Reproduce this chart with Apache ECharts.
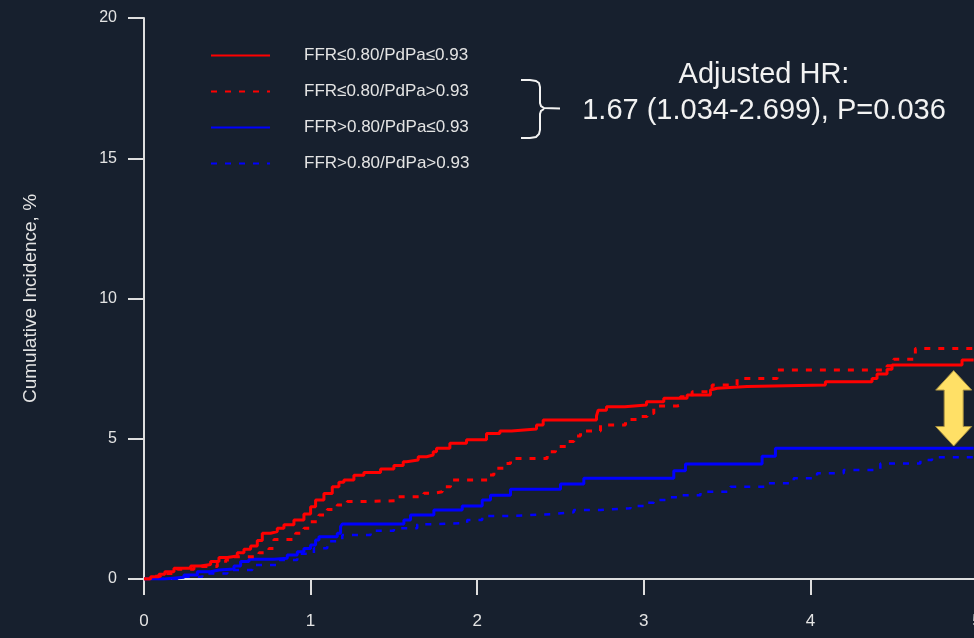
<!DOCTYPE html>
<html>
<head>
<meta charset="utf-8">
<title>Cumulative Incidence</title>
<script src="https://cdn.jsdelivr.net/npm/echarts@6/dist/echarts.min.js"></script>
<style>
	html, body { margin: 0; padding: 0; background: #17202e; }
	.kmChart { width: 974px; height: 638px; }
</style>
</head>
<body>
<div class="kmChart"></div>
<script>
	// 刻度
	const yTicks = [0, 5, 10, 15, 20]
	const xTicks = [0, 1, 2, 3, 4, 5]

	// 分组名称（图例）
	const groupNames = ['FFR≤0.80/PdPa≤0.93', 'FFR≤0.80/PdPa>0.93', 'FFR>0.80/PdPa≤0.93', 'FFR>0.80/PdPa>0.93']

	// 累积发生率 [年, %]  从图上读出
	const lowFfrLowPd = [[0, 0], [0.04, 0.08], [0.09, 0.17], [0.125, 0.26], [0.18, 0.38], [0.28, 0.46], [0.34, 0.52], [0.4, 0.62], [0.45, 0.77], [0.5, 0.82],
		[0.56, 0.94], [0.6, 1.06], [0.64, 1.18], [0.68, 1.37], [0.71, 1.63], [0.76, 1.69], [0.8, 1.81], [0.84, 1.93], [0.9, 2.1], [0.96, 2.32],
		[1.0, 2.58], [1.03, 2.82], [1.08, 3.05], [1.13, 3.29], [1.17, 3.45], [1.2, 3.53], [1.26, 3.7], [1.32, 3.8], [1.42, 3.92], [1.5, 4.05],
		[1.556, 4.18], [1.576, 4.24], [1.646, 4.36], [1.696, 4.42], [1.736, 4.54], [1.756, 4.66], [1.836, 4.84], [1.936, 4.96], [2.056, 5.19], [2.136, 5.28],
		[2.206, 5.35], [2.356, 5.49], [2.396, 5.67], [2.716, 5.81], [2.726, 6.02], [2.776, 6.14], [2.886, 6.2], [3.016, 6.32], [3.12, 6.44], [3.26, 6.56],
		[3.4, 6.74], [3.41, 6.8], [3.44, 6.86], [3.62, 6.92], [4.09, 7.03], [4.37, 7.15], [4.4, 7.31], [4.46, 7.48], [4.49, 7.63], [4.91, 7.81], [4.98, 7.81]]
	const lowFfrHighPd = [[0, 0], [0.05, 0.1], [0.1, 0.2], [0.2, 0.35], [0.3, 0.45], [0.44, 0.56], [0.49, 0.68], [0.54, 0.79], [0.69, 0.94], [0.75, 1.09],
		[0.78, 1.41], [0.91, 1.63], [0.96, 1.81], [1.0, 2.04], [1.05, 2.28], [1.1, 2.48], [1.16, 2.64], [1.22, 2.76], [1.28, 2.79], [1.52, 2.93],
		[1.68, 3.06], [1.74, 3.11], [1.79, 3.29], [1.84, 3.53], [2.06, 3.71], [2.1, 3.95], [2.16, 4.12], [2.2, 4.3], [2.42, 4.54], [2.47, 4.72],
		[2.54, 4.9], [2.58, 5.1], [2.62, 5.28], [2.74, 5.49], [2.89, 5.69], [2.97, 5.79], [3.02, 5.9], [3.06, 6.17], [3.2, 6.2], [3.22, 6.5],
		[3.29, 6.68], [3.41, 6.92], [3.56, 7.15], [3.8, 7.45], [4.46, 7.6], [4.5, 7.83], [4.63, 8.22], [4.98, 8.22]]
	const highFfrLowPd = [[0, 0], [0.125, 0.06], [0.24, 0.14], [0.32, 0.26], [0.4, 0.32], [0.45, 0.36], [0.54, 0.46], [0.58, 0.62], [0.63, 0.7], [0.78, 0.74],
		[0.86, 0.86], [0.92, 0.97], [0.96, 1.09], [1.0, 1.21], [1.03, 1.39], [1.05, 1.51], [1.16, 1.63], [1.18, 1.87], [1.19, 1.96], [1.56, 2.1],
		[1.6, 2.28], [1.74, 2.46], [1.91, 2.6], [2.03, 2.82], [2.08, 2.99], [2.2, 3.2], [2.5, 3.39], [2.64, 3.59], [3.18, 3.86], [3.25, 4.1],
		[3.71, 4.38], [3.79, 4.66], [4.98, 4.66]]
	const highFfrHighPd = [[0, 0], [0.2, 0.08], [0.35, 0.2], [0.5, 0.32], [0.65, 0.5], [0.8, 0.68], [0.92, 0.9], [1.02, 1.1], [1.1, 1.35], [1.19, 1.57],
		[1.36, 1.72], [1.5, 1.81], [1.64, 1.95], [1.74, 2.0], [1.94, 2.1], [2.03, 2.25], [2.2, 2.31], [2.44, 2.38], [2.58, 2.46], [2.74, 2.52],
		[2.92, 2.6], [3.0, 2.72], [3.06, 2.82], [3.14, 2.91], [3.2, 2.99], [3.34, 3.11], [3.52, 3.29], [3.74, 3.41], [3.9, 3.59], [4.04, 3.77],
		[4.2, 3.89], [4.42, 4.12], [4.66, 4.24], [4.73, 4.34], [4.98, 4.36]]

	const font = 'Liberation Sans, Arial, sans-serif'
	const axisColor = '#dedede'

	const myChart = echarts.init(document.querySelector('.kmChart'))

	// 阶梯折线
	function stepLine(name, data, color, dashed, width) {
		return {
			name: name,
			type: 'line',
			step: 'end',
			symbol: 'none',
			data: data,
			lineStyle: { color: color, width: width, type: dashed ? [6, 8] : 'solid' },
			itemStyle: { color: color }
		}
	}

	let option = {
		backgroundColor: '#17202e',
		animation: false,
		//控制边距  (v6 默认会把标签收进容器, 这里关掉)
		grid: { left: 144, top: 18, width: 833, height: 561, outerBoundsMode: 'none', containLabel: false },
		legend: {
			orient: 'vertical',
			left: 210,
			top: 47,
			padding: 0,
			itemWidth: 59,
			itemHeight: 16,
			itemGap: 19,
			data: groupNames,
			itemStyle: { color: 'rgba(0,0,0,0)', borderColor: 'rgba(0,0,0,0)', borderWidth: 0 },
			textStyle: { color: '#e4e4e4', fontSize: 17, fontFamily: font, padding: [0, 0, 0, 29] }
		},
		xAxis: {
			type: 'value',
			min: xTicks[0],
			max: xTicks[xTicks.length - 1],
			interval: xTicks[1] - xTicks[0],
			splitLine: { show: false },
			axisLine: { onZero: false, lineStyle: { color: axisColor, width: 2 } },
			axisTick: { length: 16, lineStyle: { color: axisColor, width: 2 } },
			axisLabel: { color: '#e4e4e4', fontSize: 17, fontFamily: font, margin: 34 }
		},
		yAxis: {
			type: 'value',
			min: yTicks[0],
			max: yTicks[yTicks.length - 1],
			interval: yTicks[1] - yTicks[0],
			name: 'Cumulative Incidence, %',
			nameLocation: 'middle',
			nameRotate: 90,
			nameGap: 104,
			nameTextStyle: { color: '#e4e4e4', fontSize: 19, fontFamily: font },
			splitLine: { show: false },
			axisLine: { show: true, lineStyle: { color: axisColor, width: 2 } },
			axisTick: { show: true, length: 16, lineStyle: { color: axisColor, width: 2 } },
			axisLabel: { color: '#e4e4e4', fontSize: 16, fontFamily: font, margin: 27 }
		},
		series: [
			stepLine(groupNames[3], highFfrHighPd, '#0000ff', true, 2.5),
			stepLine(groupNames[2], highFfrLowPd, '#0000ff', false, 3),
			stepLine(groupNames[1], lowFfrHighPd, '#ff0000', true, 3),
			stepLine(groupNames[0], lowFfrLowPd, '#ff0000', false, 3)
		]
	}
	myChart.setOption(option)

	// 黄色双箭头，位置按数据坐标换算
	const arrowTop = myChart.convertToPixel({ gridIndex: 0 }, [4.86, 7.43])
	const arrowBot = myChart.convertToPixel({ gridIndex: 0 }, [4.86, 4.74])
	const cx = arrowTop[0], hw = 18, sw = 9.5, hh = 19.5
	const arrowPts = [
		[cx, arrowTop[1]], [cx + hw, arrowTop[1] + hh], [cx + sw, arrowTop[1] + hh], [cx + sw, arrowBot[1] - hh], [cx + hw, arrowBot[1] - hh],
		[cx, arrowBot[1]], [cx - hw, arrowBot[1] - hh], [cx - sw, arrowBot[1] - hh], [cx - sw, arrowTop[1] + hh], [cx - hw, arrowTop[1] + hh]
	]

	// 括号 (上下两半)
	const braceTop = [[521, 80], [530, 80], [536, 81], [539, 83], [540, 87], [540, 103], [541, 106], [544, 108], [560, 108.5]]
	const braceBottom = [[544, 109], [541, 111], [540, 114], [540, 130], [539, 134], [536, 137], [530, 138], [521, 138]]

	myChart.setOption({
		graphic: [
			{
				type: 'polygon',
				shape: { points: arrowPts },
				style: { fill: '#ffe066', stroke: '#a89040', lineWidth: 1 },
				z: 100
			},
			{
				type: 'polyline',
				shape: { points: braceTop },
				style: { fill: null, stroke: '#f2f2f2', lineWidth: 2 }
			},
			{
				type: 'polyline',
				shape: { points: braceBottom },
				style: { fill: null, stroke: '#f2f2f2', lineWidth: 2 }
			},
			{
				type: 'text',
				x: 764,
				y: 75,
				style: { text: 'Adjusted HR:', align: 'center', verticalAlign: 'middle', fill: '#f2f2f2', fontSize: 29, fontFamily: font }
			},
			{
				type: 'text',
				x: 764,
				y: 111,
				style: { text: '1.67 (1.034-2.699), P=0.036', align: 'center', verticalAlign: 'middle', fill: '#f2f2f2', fontSize: 29, fontFamily: font }
			}
		]
	})
</script>
</body>
</html>
